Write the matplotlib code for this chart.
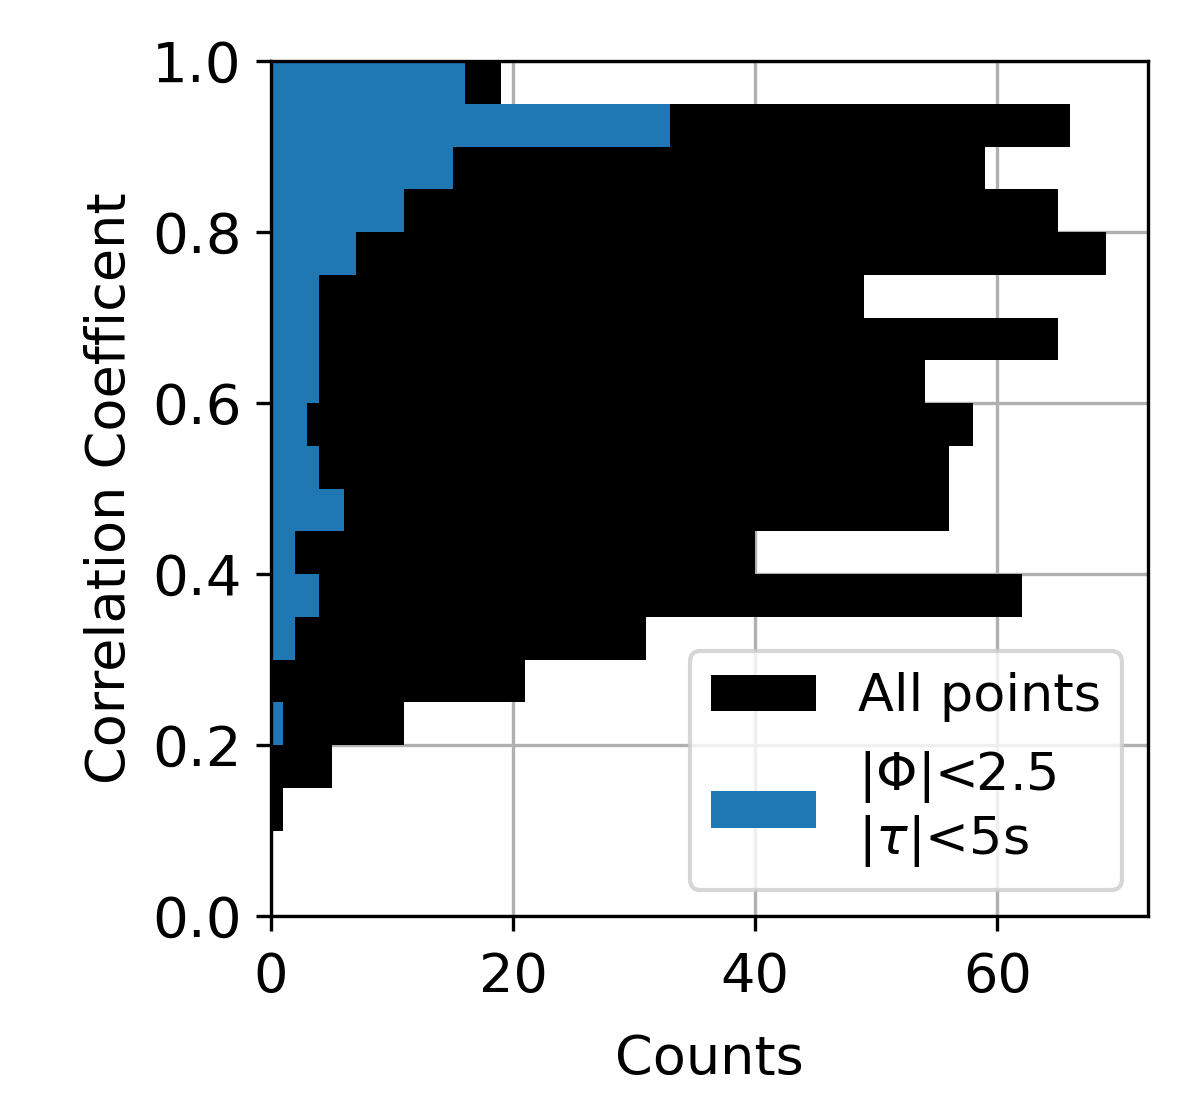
import numpy as np
import matplotlib
matplotlib.use("Agg")
import matplotlib.pyplot as plt

plt.rcParams["font.size"] = 13

# bin edges of correlation coefficient (0.05 wide)
bin_lo = [0.00, 0.05, 0.10, 0.15, 0.20, 0.25, 0.30, 0.35, 0.40, 0.45,
          0.50, 0.55, 0.60, 0.65, 0.70, 0.75, 0.80, 0.85, 0.90, 0.95]
all_counts = [0, 0, 1, 5, 11, 21, 31, 62, 40, 56,
              56, 58, 54, 65, 49, 69, 65, 59, 66, 19]
sel_counts = [0, 0, 0, 0, 1, 0, 2, 4, 2, 6,
              4, 3, 4, 4, 4, 7, 11, 15, 33, 16]
bin_width = 0.05

fig = plt.figure(figsize=(1199 / 300, 1107 / 300), dpi=300)
ax = fig.add_axes([0.226, 0.1725, 0.7315, 0.7724])

ax.barh(bin_lo, all_counts, height=bin_width, align="edge",
        color="black", linewidth=0, label="All points")
ax.barh(bin_lo, sel_counts, height=bin_width, align="edge",
        color="#1f77b4", linewidth=0,
        label="$|\\Phi|$<2.5\n$|\\tau|$<5s")

ax.set_ylim(0, 1)
ax.set_axisbelow(True)
ax.grid(True)
ax.tick_params(axis="x", pad=5)
ax.tick_params(axis="y", labelsize=13.5)
ax.set_xlabel("Counts", labelpad=7)
ax.set_ylabel("Correlation Coefficent")
ax.legend(loc="lower right", fontsize=12.6)

fig.savefig("out.png", dpi=300)
